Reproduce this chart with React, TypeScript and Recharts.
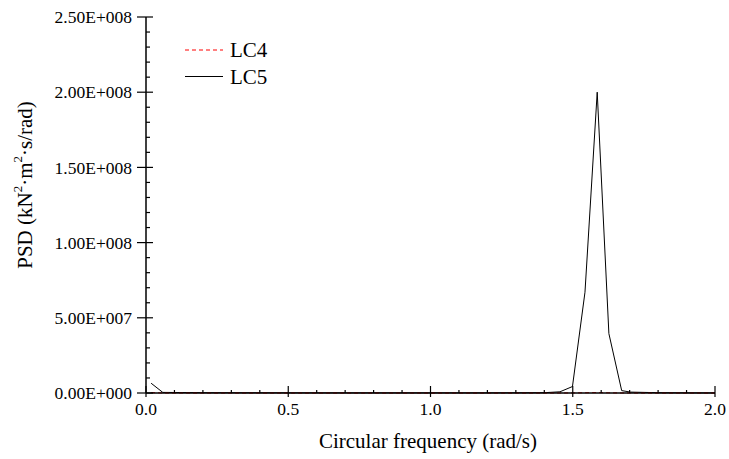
import { LineChart, Line, XAxis, YAxis } from "recharts"

const freq = [0.018, 0.059, 0.2, 0.4, 0.6, 0.8, 1.0, 1.2, 1.4, 1.455, 1.499, 1.543, 1.586, 1.627, 1.672, 1.703, 1.8, 1.9, 2.0]
const lc5 = [6.5e6, 4e5, 2e5, 1.5e5, 1e5, 1e5, 1e5, 1e5, 2e5, 8e5, 4.3e6, 6.7e7, 2.0e8, 3.95e7, 1.6e6, 6e5, 2e5, 1e5, 5e4]
const lc4 = [3e5, 2e4, 1e4, 1e4, 1e4, 1e4, 1e4, 1e4, 1e4, 2e4, 5e4, 1.5e5, 3e5, 1.2e5, 3e4, 1e4, 1e4, 1e4, 1e4]

const xTicks = [0, 0.1, 0.2, 0.3, 0.4, 0.5, 0.6, 0.7, 0.8, 0.9, 1.0, 1.1, 1.2, 1.3, 1.4, 1.5, 1.6, 1.7, 1.8, 1.9, 2.0]
const yTicks = Array.from({ length: 26 }, (_, i) => i * 1e7)

const data = freq.map((f, i) => ({ f, lc4: lc4[i], lc5: lc5[i] }))

const FONT = "'Liberation Serif', Tinos, 'Times New Roman', serif"

function fmtSci(v: number): string {
  const [m, e] = v.toExponential(2).split("e")
  const n = Math.abs(parseInt(e, 10))
  const sign = parseInt(e, 10) < 0 ? "-" : "+"
  return `${m}E${sign}${String(n).padStart(3, "0")}`
}

function XTick(props: any) {
  const { x, y, payload } = props
  const v = payload.value as number
  const major = Math.abs(v * 2 - Math.round(v * 2)) < 1e-6
  return (
    <g>
      <line x1={x} x2={x} y1={major ? y - 7 : y - 3} y2={major ? y + 4 : y} stroke="#000" strokeWidth={1.2} />
      {major && (
        <text x={x} y={y + 22} textAnchor="middle" fontFamily={FONT} fontSize={17.5} fill="#000">
          {v.toFixed(1)}
        </text>
      )}
    </g>
  )
}

function YTick(props: any) {
  const { x, y, payload } = props
  const v = payload.value as number
  const major = Math.abs(v / 5e7 - Math.round(v / 5e7)) < 1e-6
  return (
    <g>
      <line x1={major ? x - 9 : x} x2={major ? x + 7 : x + 4} y1={y} y2={y} stroke="#000" strokeWidth={1.2} />
      {major && (
        <text x={x - 14} y={y} dy="0.35em" textAnchor="end" fontFamily={FONT} fontSize={17.5} fill="#000">
          {fmtSci(v)}
        </text>
      )}
    </g>
  )
}

function LegendBox() {
  const items = [
    { name: "LC4", color: "#ff0000", dash: "4 3" },
    { name: "LC5", color: "#000", dash: undefined },
  ]
  return (
    <svg width={110} height={60} style={{ position: "absolute", left: 183, top: 37 }}>
      {items.map((it, i) => (
        <g key={it.name}>
          <line x1={2} x2={40} y1={13 + i * 26.5} y2={13 + i * 26.5} stroke={it.color} strokeDasharray={it.dash} strokeWidth={1} />
          <text x={47} y={13 + i * 26.5} dy="0.35em" fontFamily={FONT} fontSize={21} fill="#000">
            {it.name}
          </text>
        </g>
      ))}
    </svg>
  )
}

export default function App() {
  return (
    <div style={{ position: "absolute", left: 0, top: 0, width: 729, height: 459, background: "#fff" }}>
      <LineChart width={729} height={459} data={data} margin={{ top: 17, right: 14, bottom: 0, left: 0 }}>
        <XAxis
          dataKey="f"
          type="number"
          domain={[0, 2]}
          ticks={xTicks}
          interval={0}
          height={66}
          tickSize={0}
          tickMargin={0}
          tickLine={false}
          tick={<XTick />}
          axisLine={{ stroke: "#000", strokeWidth: 1.5 }}
          label={{
            content: () => (
              <text x={428} y={441} textAnchor="middle" dominantBaseline="central" fontFamily={FONT} fontSize={21} fill="#000">
                Circular frequency (rad/s)
              </text>
            ),
          }}
        />
        <YAxis
          type="number"
          domain={[0, 2.5e8]}
          ticks={yTicks}
          interval={0}
          width={146}
          tickSize={0}
          tickMargin={0}
          tickLine={false}
          tick={<YTick />}
          axisLine={{ stroke: "#000", strokeWidth: 1.5 }}
          label={{
            content: () => (
              <text
                x={25}
                y={185}
                transform="rotate(-90 25 185)"
                textAnchor="middle"
                dominantBaseline="central"
                fontFamily={FONT}
                fontSize={21}
                fill="#000"
              >
                PSD (kN
                <tspan dy={-8} fontSize={13}>2</tspan>
                <tspan dy={8}>·m</tspan>
                <tspan dy={-8} fontSize={13}>2</tspan>
                <tspan dy={8}>·s/rad)</tspan>
              </text>
            ),
          }}
        />
        <Line dataKey="lc5" stroke="#000" strokeWidth={1} dot={false} isAnimationActive={false} />
        <Line dataKey="lc4" stroke="#ff0000" strokeDasharray="4 3" strokeWidth={1} dot={false} isAnimationActive={false} />
      </LineChart>
      <LegendBox />
    </div>
  )
}
